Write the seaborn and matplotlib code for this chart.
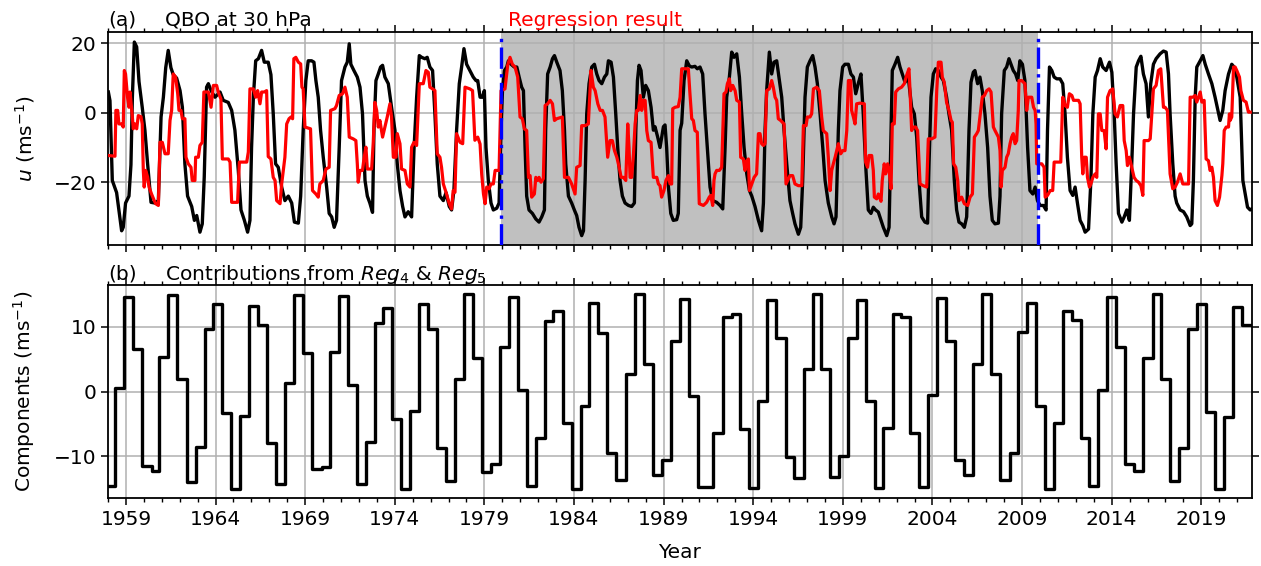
import numpy as np
import pandas as pd
import matplotlib
matplotlib.use("Agg")
import matplotlib.pyplot as plt
from matplotlib.ticker import MultipleLocator, FixedLocator
import seaborn as sns

# ---------------- data ----------------
# Observed zonal-mean zonal wind at 30 hPa (m/s), decimal year
obs_year = [
    1958.02, 1958.11, 1958.24, 1958.48, 1958.76, 1958.85, 1958.98, 1959.17, 1959.28, 1959.36,
    1959.47, 1959.60, 1959.73, 1959.91, 1960.06, 1960.21, 1960.40, 1960.62, 1960.81, 1960.96,
    1961.09, 1961.22, 1961.36, 1961.51, 1961.64, 1961.83, 1962.02, 1962.15, 1962.29, 1962.44,
    1962.67, 1962.82, 1962.95, 1963.13, 1963.26, 1963.37, 1963.50, 1963.60, 1963.75, 1963.97,
    1964.25, 1964.43, 1964.71, 1964.90, 1965.08, 1965.27, 1965.42, 1965.61, 1965.79, 1965.92,
    1966.01, 1966.11, 1966.24, 1966.39, 1966.57, 1966.72, 1966.94, 1967.09, 1967.22, 1967.35,
    1967.50, 1967.69, 1967.87, 1968.06, 1968.25, 1968.40, 1968.62, 1968.75, 1968.89, 1969.04,
    1969.17, 1969.36, 1969.49, 1969.60, 1969.73, 1969.86, 1970.01, 1970.20, 1970.34, 1970.48,
    1970.62, 1970.75, 1970.90, 1971.03, 1971.22, 1971.35, 1971.46, 1971.55, 1971.72, 1971.91,
    1972.06, 1972.20, 1972.34, 1972.47, 1972.61, 1972.76, 1972.84, 1972.95, 1973.08, 1973.21,
    1973.32, 1973.45, 1973.64, 1973.82, 1974.01, 1974.14, 1974.29, 1974.44, 1974.57, 1974.75,
    1974.94, 1975.07, 1975.22, 1975.37, 1975.50, 1975.68, 1975.81, 1975.96, 1976.11, 1976.24,
    1976.37, 1976.52, 1976.71, 1976.86, 1977.04, 1977.17, 1977.30, 1977.45, 1977.60, 1977.73,
    1977.86, 1978.01, 1978.19, 1978.38, 1978.53, 1978.63, 1978.76, 1978.89, 1979.00, 1979.09,
    1979.22, 1979.37, 1979.50, 1979.69, 1979.82, 1979.93, 1980.01, 1980.12, 1980.25, 1980.34,
    1980.49, 1980.67, 1980.81, 1980.94, 1981.08, 1981.18, 1981.27, 1981.36, 1981.49, 1981.68,
    1981.87, 1982.05, 1982.20, 1982.35, 1982.42, 1982.53, 1982.67, 1982.80, 1982.91, 1983.04,
    1983.22, 1983.35, 1983.47, 1983.54, 1983.69, 1983.87, 1984.02, 1984.15, 1984.28, 1984.43,
    1984.53, 1984.62, 1984.71, 1984.84, 1984.99, 1985.14, 1985.27, 1985.40, 1985.55, 1985.70,
    1985.83, 1985.92, 1986.07, 1986.20, 1986.33, 1986.44, 1986.57, 1986.70, 1986.85, 1987.04,
    1987.22, 1987.37, 1987.45, 1987.54, 1987.63, 1987.74, 1987.87, 1988.00, 1988.15, 1988.30,
    1988.43, 1988.52, 1988.67, 1988.80, 1988.99, 1989.08, 1989.17, 1989.27, 1989.40, 1989.54,
    1989.73, 1989.82, 1989.92, 1990.01, 1990.14, 1990.29, 1990.44, 1990.57, 1990.75, 1990.88,
    1991.03, 1991.18, 1991.31, 1991.44, 1991.59, 1991.74, 1991.96, 1992.15, 1992.30, 1992.43,
    1992.52, 1992.67, 1992.80, 1992.93, 1993.08, 1993.23, 1993.36, 1993.49, 1993.64, 1993.79,
    1993.92, 1994.10, 1994.29, 1994.47, 1994.57, 1994.66, 1994.75, 1994.90, 1995.03, 1995.16,
    1995.31, 1995.46, 1995.59, 1995.72, 1995.87, 1996.05, 1996.20, 1996.33, 1996.52, 1996.65,
    1996.76, 1996.89, 1997.02, 1997.17, 1997.32, 1997.45, 1997.58, 1997.73, 1997.88, 1998.01,
    1998.19, 1998.38, 1998.51, 1998.62, 1998.75, 1998.84, 1998.99, 1999.12, 1999.31, 1999.45,
    1999.59, 1999.72, 1999.86, 2000.01, 2000.14, 2000.27, 2000.42, 2000.57, 2000.70, 2000.83,
    2000.98, 2001.13, 2001.26, 2001.45, 2001.58, 2001.69, 2001.76, 2001.91, 2002.06, 2002.19,
    2002.32, 2002.47, 2002.65, 2002.84, 2002.99, 2003.12, 2003.25, 2003.40, 2003.58, 2003.73,
    2003.81, 2003.92, 2004.05, 2004.18, 2004.33, 2004.48, 2004.61, 2004.79, 2004.92, 2005.07,
    2005.22, 2005.35, 2005.48, 2005.63, 2005.78, 2005.91, 2006.04, 2006.15, 2006.28, 2006.37,
    2006.52, 2006.65, 2006.78, 2006.93, 2007.08, 2007.21, 2007.34, 2007.49, 2007.68, 2007.77,
    2007.86, 2008.01, 2008.14, 2008.27, 2008.38, 2008.51, 2008.64, 2008.76, 2008.88, 2009.02,
    2009.16, 2009.31, 2009.44, 2009.60, 2009.73, 2009.86, 2010.01, 2010.19, 2010.34, 2010.42,
    2010.53, 2010.66, 2010.79, 2010.94, 2011.12, 2011.27, 2011.40, 2011.53, 2011.68, 2011.83,
    2011.96, 2012.09, 2012.24, 2012.39, 2012.52, 2012.71, 2012.84, 2012.95, 2013.08, 2013.21,
    2013.36, 2013.50, 2013.69, 2013.88, 2014.01, 2014.14, 2014.25, 2014.38, 2014.57, 2014.70,
    2014.84, 2014.99, 2015.12, 2015.22, 2015.37, 2015.50, 2015.63, 2015.77, 2015.92, 2016.05,
    2016.18, 2016.33, 2016.48, 2016.70, 2016.89, 2017.04, 2017.17, 2017.26, 2017.41, 2017.54,
    2017.63, 2017.82, 2018.01, 2018.19, 2018.38, 2018.47, 2018.56, 2018.66, 2018.75, 2018.94,
    2019.09, 2019.22, 2019.40, 2019.59, 2019.77, 2020.05, 2020.20, 2020.33, 2020.52, 2020.70,
    2020.83, 2020.98, 2021.17, 2021.32, 2021.45, 2021.58, 2021.73, 2021.82,
]
obs_u = [
    6.0, 3.5, -19.5, -23.0, -34.0, -33.0, -26.0, -24.0, -15.0, 4.5,
    20.4, 19.0, 9.0, 1.6, -5.0, -14.7, -25.8, -26.0, -25.3, -1.2,
    4.5, 13.0, 18.0, 13.0, 11.0, 10.0, 6.4, 1.6, -14.7, -24.0,
    -27.0, -31.0, -29.6, -34.4, -32.0, -18.5, 7.4, 8.4, 6.4, 4.5,
    6.0, 3.6, 3.0, 0.7, -5.0, -16.6, -28.0, -31.0, -34.4, -31.0,
    -10.0, 4.5, 15.0, 15.6, 18.0, 14.6, 14.6, 11.0, -0.3, -14.7,
    -15.7, -21.4, -25.3, -24.0, -26.0, -31.5, -31.8, -24.0, -5.0, 9.3,
    15.0, 15.0, 14.6, 9.3, 4.5, -5.0, -12.8, -21.4, -29.0, -30.0,
    -33.0, -31.0, -10.0, 9.3, 13.2, 14.6, 19.9, 14.0, 12.2, 10.3,
    7.4, -0.3, -19.5, -24.0, -26.0, -28.7, -5.0, 9.3, 11.2, 13.2,
    13.7, 10.3, 8.4, 1.6, -5.0, -14.7, -22.4, -27.0, -30.0, -28.5,
    -30.0, -10.9, 4.5, 16.5, 16.0, 15.6, 16.0, 13.2, 12.2, -0.3,
    -14.7, -24.0, -25.3, -23.0, -27.0, -28.0, -22.4, -5.0, 8.4, 13.2,
    18.5, 14.0, 12.2, 10.3, 9.3, 9.3, 4.5, 4.5, 6.4, -10.0,
    -19.5, -26.0, -28.0, -27.5, -26.0, -5.0, 6.4, 12.2, 13.2, 15.0,
    14.0, 13.2, 13.2, 10.3, 7.4, 6.4, -10.0, -24.0, -28.0, -29.0,
    -30.6, -31.5, -30.0, -28.0, -5.0, 11.2, 13.2, 15.6, 16.5, 14.6,
    12.2, 6.4, -5.0, -14.7, -24.0, -26.0, -28.0, -29.6, -33.0, -35.4,
    -34.0, -19.5, -0.3, 8.4, 13.2, 14.0, 11.2, 9.3, 8.4, 10.3,
    11.2, 15.0, 14.6, 10.3, -0.3, -10.0, -19.5, -24.0, -26.0, -26.7,
    -27.0, -26.0, -5.0, 9.3, 13.7, 12.2, 4.5, 7.9, 6.4, 1.6,
    -5.0, -4.0, -7.0, -10.0, -4.0, -3.5, -10.0, -21.4, -29.0, -31.0,
    -30.8, -29.0, -5.0, -3.0, 9.3, 15.0, 13.5, 13.2, 13.4, 12.7,
    13.2, 11.2, -0.3, -10.0, -21.4, -25.3, -25.8, -26.7, -27.7, -10.0,
    4.5, 10.3, 17.5, 16.0, 17.0, 10.3, -0.3, -10.0, -17.6, -22.4,
    -24.0, -27.0, -31.0, -34.0, -26.0, -5.0, 6.4, 17.5, 11.2, 14.6,
    15.0, 9.3, 4.5, -5.0, -14.7, -25.3, -29.0, -32.0, -35.0, -33.0,
    -19.5, 4.5, 13.2, 15.0, 16.5, 13.2, 8.4, -0.3, -10.0, -19.5,
    -26.0, -30.0, -32.0, -30.0, -5.0, 6.4, 13.2, 14.0, 14.0, 11.2,
    10.3, 5.5, 8.4, 11.2, -0.3, -14.7, -28.0, -29.0, -27.2, -28.0,
    -28.6, -31.0, -33.0, -35.4, -33.0, -5.0, 12.2, 14.0, 16.0, 13.2,
    11.2, 8.8, 10.3, 1.6, -0.3, -7.0, -19.5, -30.0, -31.5, -31.8,
    -14.7, 4.5, 11.2, 12.7, 12.2, 10.3, 9.3, 4.5, -0.3, -5.0,
    -19.5, -28.0, -31.5, -32.0, -33.0, -30.0, -5.0, 8.8, 11.7, 12.2,
    8.4, 10.3, 6.4, -0.3, -10.0, -24.0, -31.0, -32.0, -31.8, -24.0,
    -0.3, 12.2, 13.2, 15.6, 14.0, 12.2, 11.2, 9.3, 15.0, 14.0,
    9.3, -10.0, -22.4, -23.4, -21.4, -25.3, -26.7, -26.7, -28.0, -5.0,
    13.2, 12.2, 10.3, 9.8, 9.8, 8.4, -0.3, -12.8, -22.4, -23.8,
    -21.4, -26.0, -31.0, -32.5, -34.4, -33.5, -19.5, -0.3, 10.3, 12.2,
    15.6, 13.2, 12.2, 14.6, 11.7, -0.3, -14.7, -29.0, -31.5, -30.0,
    -28.0, -31.0, -14.7, -0.3, 13.2, 15.0, 16.3, 11.2, 8.4, -1.2,
    8.4, 14.0, 15.6, 17.0, 17.8, 17.5, 11.2, -0.3, -14.7, -24.0,
    -26.0, -28.0, -28.5, -30.0, -32.5, -32.0, -19.5, 4.5, 13.2, 15.0,
    16.5, 14.0, 11.2, 8.4, 4.5, -2.2, 0.7, 6.4, 11.2, 14.0,
    13.2, 10.3, 4.5, -19.5, -23.4, -27.2, -28.0, -27.7,
]

# Regression reconstruction (m/s)
reg_year = [
    1958.02, 1958.39, 1958.44, 1958.54, 1958.61, 1958.76, 1958.85, 1958.91, 1958.98, 1959.09,
    1959.17, 1959.23, 1959.36, 1959.41, 1959.50, 1959.60, 1959.69, 1959.84, 1959.91, 1959.97,
    1960.02, 1960.10, 1960.21, 1960.29, 1960.43, 1960.58, 1960.66, 1960.81, 1960.90, 1961.03,
    1961.18, 1961.36, 1961.46, 1961.55, 1961.64, 1961.77, 1961.89, 1961.96, 1962.07, 1962.15,
    1962.29, 1962.35, 1962.48, 1962.63, 1962.70, 1962.85, 1962.89, 1963.04, 1963.13, 1963.26,
    1963.35, 1963.60, 1963.75, 1963.88, 1964.06, 1964.15, 1964.30, 1964.38, 1964.71, 1964.81,
    1964.90, 1965.23, 1965.33, 1965.74, 1965.83, 1965.92, 1966.11, 1966.24, 1966.35, 1966.48,
    1966.57, 1966.72, 1966.85, 1966.94, 1967.09, 1967.22, 1967.32, 1967.41, 1967.60, 1967.69,
    1967.87, 1967.97, 1968.10, 1968.21, 1968.30, 1968.37, 1968.48, 1968.62, 1968.75, 1968.82,
    1968.89, 1968.99, 1969.30, 1969.41, 1969.60, 1969.73, 1969.82, 1970.01, 1970.16, 1970.34,
    1970.42, 1970.66, 1970.75, 1970.90, 1971.09, 1971.22, 1971.35, 1971.46, 1971.68, 1971.83,
    1971.91, 1971.96, 1972.06, 1972.20, 1972.28, 1972.39, 1972.47, 1972.71, 1972.80, 1972.89,
    1972.99, 1973.08, 1973.17, 1973.32, 1973.45, 1973.58, 1973.73, 1973.82, 1973.92, 1974.07,
    1974.14, 1974.29, 1974.38, 1974.57, 1974.70, 1974.85, 1974.94, 1975.07, 1975.22, 1975.37,
    1975.59, 1975.74, 1975.87, 1975.96, 1976.11, 1976.24, 1976.37, 1976.52, 1976.61, 1976.71,
    1976.89, 1977.04, 1977.17, 1977.26, 1977.36, 1977.45, 1977.64, 1977.79, 1977.92, 1978.19,
    1978.34, 1978.47, 1978.63, 1978.76, 1978.85, 1978.95, 1979.04, 1979.13, 1979.26, 1979.37,
    1979.50, 1979.60, 1979.82, 1979.93, 1980.15, 1980.30, 1980.43, 1980.56, 1980.71, 1980.86,
    1980.99, 1981.12, 1981.23, 1981.36, 1981.46, 1981.55, 1981.64, 1981.79, 1981.87, 1981.98,
    1982.05, 1982.16, 1982.29, 1982.39, 1982.53, 1982.67, 1982.80, 1982.91, 1983.04, 1983.22,
    1983.35, 1983.47, 1983.69, 1983.87, 1984.06, 1984.15, 1984.34, 1984.43, 1984.62, 1984.80,
    1984.90, 1984.95, 1985.08, 1985.18, 1985.33, 1985.46, 1985.59, 1985.73, 1985.88, 1986.01,
    1986.14, 1986.26, 1986.39, 1986.52, 1986.63, 1986.76, 1986.89, 1987.00, 1987.07, 1987.13,
    1987.22, 1987.32, 1987.41, 1987.50, 1987.59, 1987.69, 1987.78, 1987.87, 1987.97, 1988.06,
    1988.15, 1988.30, 1988.43, 1988.62, 1988.71, 1988.80, 1988.89, 1989.02, 1989.13, 1989.27,
    1989.36, 1989.45, 1989.51, 1989.64, 1989.82, 1989.92, 1990.01, 1990.20, 1990.38, 1990.47,
    1990.57, 1990.66, 1990.75, 1990.88, 1990.99, 1991.22, 1991.40, 1991.55, 1991.63, 1991.74,
    1991.81, 1991.87, 1991.96, 1992.11, 1992.24, 1992.37, 1992.48, 1992.56, 1992.67, 1992.74,
    1992.86, 1992.99, 1993.08, 1993.23, 1993.30, 1993.45, 1993.54, 1993.64, 1993.73, 1993.79,
    1993.92, 1994.05, 1994.19, 1994.29, 1994.38, 1994.47, 1994.57, 1994.66, 1994.75, 1994.90,
    1995.03, 1995.12, 1995.22, 1995.31, 1995.40, 1995.53, 1995.72, 1995.83, 1996.05, 1996.20,
    1996.33, 1996.52, 1996.71, 1996.80, 1996.95, 1997.02, 1997.17, 1997.26, 1997.36, 1997.54,
    1997.69, 1997.82, 1997.91, 1998.01, 1998.10, 1998.19, 1998.29, 1998.38, 1998.47, 1998.57,
    1998.66, 1998.75, 1998.88, 1998.99, 1999.12, 1999.22, 1999.31, 1999.44, 1999.49, 1999.59,
    1999.68, 1999.77, 1999.96, 2000.20, 2000.27, 2000.38, 2000.46, 2000.61, 2000.70, 2000.76,
    2000.89, 2000.98, 2001.13, 2001.20, 2001.31, 2001.39, 2001.50, 2001.58, 2001.69, 2001.76,
    2001.87, 2001.95, 2002.10, 2002.28, 2002.43, 2002.56, 2002.69, 2002.75, 2002.84, 2002.93,
    2003.06, 2003.17, 2003.31, 2003.49, 2003.68, 2003.77, 2003.96, 2004.14, 2004.24, 2004.33,
    2004.48, 2004.55, 2004.66, 2004.79, 2004.92, 2005.04, 2005.11, 2005.18, 2005.30, 2005.41,
    2005.48, 2005.63, 2005.78, 2005.97, 2006.10, 2006.23, 2006.34, 2006.47, 2006.56, 2006.71,
    2006.78, 2006.90, 2007.03, 2007.16, 2007.27, 2007.40, 2007.49, 2007.68, 2007.77, 2007.83,
    2007.90, 2008.05, 2008.14, 2008.23, 2008.33, 2008.42, 2008.51, 2008.61, 2008.70, 2008.79,
    2008.83, 2008.98, 2009.16, 2009.26, 2009.35, 2009.44, 2009.54, 2009.64, 2009.73, 2009.78,
    2009.82, 2010.10, 2010.23, 2010.29, 2010.42, 2010.57, 2010.71, 2010.79, 2011.16, 2011.27,
    2011.40, 2011.53, 2011.64, 2011.78, 2011.87, 2012.02, 2012.15, 2012.24, 2012.33, 2012.39,
    2012.46, 2012.58, 2012.65, 2012.76, 2012.84, 2012.95, 2013.08, 2013.17, 2013.26, 2013.36,
    2013.45, 2013.58, 2013.69, 2013.77, 2013.91, 2014.06, 2014.19, 2014.32, 2014.47, 2014.62,
    2014.70, 2014.81, 2014.88, 2014.99, 2015.12, 2015.25, 2015.37, 2015.50, 2015.63, 2015.74,
    2015.81, 2016.05, 2016.15, 2016.24, 2016.33, 2016.48, 2016.61, 2016.74, 2016.89, 2016.98,
    2017.11, 2017.26, 2017.41, 2017.54, 2017.67, 2017.82, 2017.97, 2018.10, 2018.29, 2018.38,
    2018.53, 2018.66, 2018.75, 2018.84, 2018.94, 2019.03, 2019.16, 2019.27, 2019.40, 2019.49,
    2019.59, 2019.68, 2019.77, 2019.90, 2020.02, 2020.15, 2020.20, 2020.28, 2020.39, 2020.52,
    2020.57, 2020.61, 2020.70, 2020.80, 2020.89, 2020.98, 2021.13, 2021.21, 2021.35, 2021.50,
    2021.63, 2021.73,
]
reg_u = [
    -12.3, -12.5, 0.7, 0.7, -3.2, -3.2, -4.1, 12.2, 11.2, 4.5,
    1.6, 6.0, -1.2, -4.6, -3.2, -4.6, -0.8, -1.1, -3.2, -16.6,
    -21.4, -16.6, -18.5, -21.4, -23.4, -25.3, -26.2, -26.7, -8.5, -8.5,
    -11.8, -11.8, -2.2, 0.7, 11.2, 10.3, 5.5, 0.7, 0.7, -1.7,
    -1.7, -12.8, -14.7, -15.7, -19.5, -19.5, -12.8, -12.8, -9.4, -8.5,
    6.0, 6.0, 1.6, 7.9, 7.9, 6.0, 4.0, -13.3, -13.3, -14.2,
    -25.8, -25.8, -14.2, -14.2, -11.3, 6.9, 6.9, 4.5, 6.4, 2.6,
    6.0, 6.0, 6.4, -12.6, -13.3, -18.6, -19.5, -25.3, -26.2, -20.5,
    -12.8, -3.2, -1.7, -1.2, -1.7, 15.6, 16.0, 14.6, 14.1, 7.4,
    6.9, -4.1, -4.6, -22.4, -23.4, -24.3, -20.5, -19.5, -16.2, -15.7,
    0.7, 1.2, 2.1, 5.0, 5.5, 7.4, 4.5, -7.0, -7.5, -8.0,
    -14.7, -20.0, -16.6, -16.6, -13.3, -9.9, -16.2, -16.2, -8.5, 3.0,
    0.7, -4.1, -2.2, -7.0, -4.1, -1.2, 2.6, -1.2, -12.8, -12.8,
    -6.0, -8.9, -16.2, -16.6, -20.5, -21.4, -9.9, -8.5, -9.4, 8.4,
    8.4, 12.2, 11.7, 7.4, 6.9, 6.4, -11.8, -12.8, -15.7, -20.5,
    -23.4, -26.2, -27.7, -22.4, -22.9, -6.0, -8.5, -8.9, 7.4, 6.9,
    6.4, -7.9, -7.0, -9.0, -17.6, -23.4, -26.2, -21.4, -21.9, -20.5,
    -20.5, -16.6, -16.6, 6.4, 6.9, 13.7, 16.0, 14.0, 13.2, 10.3,
    -1.2, -1.7, -4.6, -5.1, -18.6, -18.1, -24.3, -23.4, -18.6, -19.5,
    -18.6, -20.0, -19.0, 2.1, 2.6, 3.6, 2.6, -2.2, -1.7, -1.4,
    -1.2, -18.6, -18.6, -20.5, -23.4, -15.7, -15.2, -3.7, -3.7, -3.2,
    6.9, 12.2, 7.4, 6.4, 2.6, 0.7, 0.7, -1.2, -12.8, -8.0,
    -8.0, -10.9, -12.8, -15.7, -18.6, -18.6, -19.5, -3.2, -9.9, -18.6,
    -18.6, -11.8, -3.2, 0.7, 0.7, 5.0, 0.7, 3.6, 3.6, -5.1,
    -8.0, -8.5, -18.6, -18.6, -20.5, -21.0, -24.3, -22.4, -19.5, -18.1,
    -20.5, -20.5, 1.2, 1.6, 1.8, 4.5, 12.7, 12.7, 12.7, 5.5,
    -1.7, -2.2, -5.1, -5.6, -26.2, -26.7, -25.8, -24.3, -23.8, -26.7,
    -19.5, -17.6, -16.6, -16.6, -15.7, 5.5, 6.0, 8.4, 9.8, 6.4,
    7.9, 6.4, 3.6, 3.1, -12.8, -13.3, -16.6, -13.8, -13.3, -22.4,
    -20.5, -18.6, -17.6, -6.0, -6.0, -8.9, -9.4, -8.9, 6.4, 6.9,
    9.3, 7.4, 4.5, 3.6, -1.7, -2.2, -3.2, -20.5, -18.1, -18.1,
    -20.5, -21.0, -21.0, -3.7, -3.7, -1.2, -1.2, -0.3, 6.9, 7.4,
    6.4, -1.2, -5.1, -5.6, -6.0, -12.8, -22.4, -16.6, -14.7, -12.8,
    -10.9, -8.9, -11.8, -10.9, -10.9, -5.1, 9.3, 9.3, 0.7, -1.2,
    -3.2, 2.6, 2.8, 2.6, -14.2, -15.7, -12.3, -12.3, -16.6, -24.3,
    -24.8, -23.4, -25.5, -19.5, -14.7, -17.6, -14.7, -16.6, -21.9, -3.2,
    -3.2, 6.0, 6.9, 7.4, 8.4, 10.8, 12.7, 6.4, -5.1, -4.1,
    -4.1, -5.1, -20.5, -21.0, -21.4, -7.5, -7.5, -7.0, 6.4, 14.6,
    14.6, 10.3, 8.8, 3.0, 0.7, -2.2, -2.7, -14.7, -15.7, -19.5,
    -25.3, -24.3, -26.2, -26.7, -24.3, -23.4, -7.0, -6.0, -5.1, 1.6,
    4.5, 5.0, 6.4, 6.9, 6.0, -4.1, -5.1, -7.0, -10.9, -21.4,
    -16.6, -15.7, -12.8, -11.8, -8.9, -7.0, -6.0, -8.9, -8.0, 0.7,
    9.3, 9.3, 8.4, 0.7, 4.5, 4.5, 4.5, 1.6, 0.7, -3.2,
    -14.7, -14.7, -15.7, -24.3, -23.8, -22.4, -22.4, -14.2, -14.2, 4.5,
    2.1, 1.6, 5.5, 5.0, 3.6, 3.6, 3.6, 2.6, -12.8, -17.6,
    -12.8, -12.8, -18.6, -21.4, -20.5, -18.6, -17.6, -18.6, -0.3, -0.3,
    -5.1, -5.1, -10.4, 4.5, 6.4, 6.9, -0.3, -1.2, 2.1, 2.1,
    -8.0, -10.9, -15.2, -12.8, -15.7, -18.6, -19.5, -20.0, -21.0, -23.8,
    -8.0, -8.0, -7.5, -0.3, 6.9, 7.9, 12.2, 12.7, 1.6, 1.6,
    0.7, -17.6, -21.9, -21.4, -20.0, -17.6, -20.5, -20.5, -20.5, 4.5,
    4.5, 5.0, 3.1, 4.5, 6.0, 3.1, 3.6, -13.3, -13.8, -16.6,
    -15.7, -18.6, -25.3, -26.7, -24.3, -18.1, -14.7, -5.1, -4.1, -4.1,
    -0.3, -2.2, -1.2, 13.2, 13.2, 12.2, 10.3, 6.4, 3.6, 3.1,
    0.2, 0.2,
]

# Combined contribution of the Reg4 and Reg5 components (m/s), piecewise constant
comp_start = [
    1958.00, 1958.39, 1958.89, 1959.37, 1959.87, 1960.43, 1960.86, 1961.36, 1961.86, 1962.39,
    1962.89, 1963.39, 1963.87, 1964.38, 1964.84, 1965.36, 1965.88, 1966.38, 1966.89, 1967.37,
    1967.87, 1968.39, 1968.90, 1969.40, 1969.92, 1970.38, 1970.89, 1971.37, 1971.87, 1972.37,
    1972.90, 1973.36, 1973.86, 1974.35, 1974.85, 1975.35, 1975.87, 1976.34, 1976.86, 1977.36,
    1977.86, 1978.34, 1978.87, 1979.35, 1979.87, 1980.37, 1980.86, 1981.36, 1981.88, 1982.38,
    1982.85, 1983.37, 1983.87, 1984.37, 1984.86, 1985.36, 1985.86, 1986.34, 1986.92, 1987.42,
    1987.93, 1988.43, 1988.93, 1989.43, 1989.93, 1990.43, 1990.93, 1991.78, 1992.30, 1992.80,
    1993.26, 1993.78, 1994.29, 1994.79, 1995.27, 1995.81, 1996.29, 1996.83, 1997.33, 1997.79,
    1998.29, 1998.79, 1999.27, 1999.78, 2000.28, 2000.80, 2001.26, 2001.79, 2002.25, 2002.75,
    2003.27, 2003.78, 2004.28, 2004.76, 2005.26, 2005.77, 2006.29, 2006.79, 2007.27, 2007.77,
    2008.30, 2008.80, 2009.26, 2009.78, 2010.29, 2010.81, 2011.31, 2011.77, 2012.28, 2012.76,
    2013.26, 2013.76, 2014.25, 2014.75, 2015.25, 2015.77, 2016.28, 2016.76, 2017.26, 2017.76,
    2018.25, 2018.75, 2019.25, 2019.77, 2020.27, 2020.76, 2021.26, 2021.83,
]
comp_value = [
    -14.5, 0.5, 14.6, 6.6, -11.4, -12.2, 5.3, 14.9, 1.9, -13.9,
    -8.6, 9.7, 13.4, -3.3, -15.0, -3.8, 13.1, 10.2, -8.0, -14.2,
    1.3, 14.9, 5.9, -11.9, -11.7, 6.1, 14.7, 1.0, -14.3, -7.8,
    10.5, 12.9, -4.2, -15.0, -3.0, 13.5, 9.6, -8.7, -13.8, 2.0,
    15.0, 5.2, -12.4, -11.1, 6.9, 14.5, 0.2, -14.6, -7.1, 10.9,
    12.4, -4.8, -15.0, -2.3, 13.7, 9.0, -9.5, -13.6, 2.7, 15.0,
    4.3, -12.8, -10.6, 7.7, 14.2, -0.7, -14.7, -6.4, 11.4, 12.0,
    -5.7, -14.9, -1.4, 14.1, 8.2, -10.1, -13.3, 3.5, 15.0, 3.5,
    -13.2, -10.0, 8.3, 14.1, -1.4, -14.9, -5.6, 12.0, 11.5, -6.4,
    -14.7, -0.6, 14.4, 7.7, -10.6, -12.8, 4.3, 15.0, 2.7, -13.6,
    -9.4, 9.1, 13.7, -2.2, -15.0, -4.8, 12.4, 11.0, -7.1, -14.6,
    0.2, 14.5, 6.9, -11.1, -12.3, 5.2, 15.0, 2.0, -13.8, -8.7,
    9.6, 13.5, -3.1, -15.0, -4.0, 13.0, 10.3, 10.3,
]

fit_period = (1979.9, 2009.9)
major_years = [1959, 1964, 1969, 1974, 1979, 1984, 1989, 1994, 1999, 2004, 2009, 2014, 2019]

obs = pd.DataFrame({"year": obs_year, "u": obs_u})
reg = pd.DataFrame({"year": reg_year, "u": reg_u})
comp = pd.DataFrame({"year": comp_start, "value": comp_value})

# ---------------- style ----------------
FS = 14.5
plt.rcParams.update({
    "font.family": ["DejaVu Sans"],
    "font.size": FS,
    "axes.linewidth": 1.3,
    "xtick.major.size": 5, "xtick.minor.size": 3,
    "ytick.major.size": 5,
    "xtick.major.width": 1.1, "xtick.minor.width": 1.0,
    "ytick.major.width": 1.1,
    "xtick.labelsize": FS, "ytick.labelsize": FS,
    "mathtext.default": "regular",
})

fig = plt.figure(figsize=(12.61, 5.66), dpi=100)
W, H = 1261, 566
left, right = 108 / W, 1252 / W
ax_a = fig.add_axes([left, 1 - 245 / H, right - left, 213 / H])
ax_b = fig.add_axes([left, 1 - 498 / H, right - left, 213 / H])

xlim = (1958.0, 2021.83)

# ---------------- panel (a) ----------------
ax_a.axvspan(*fit_period, color="#c0c0c0", lw=0, zorder=1)
sns.lineplot(data=obs, x="year", y="u", ax=ax_a, color="black", lw=2.4,
             estimator=None, sort=False, zorder=3)
sns.lineplot(data=reg, x="year", y="u", ax=ax_a, color="red", lw=2.3,
             estimator=None, sort=False, zorder=4)
ax_a.vlines(list(fit_period), -38.1, 21.5, colors="blue", linestyles="-.",
            lw=2.4, zorder=5)
ax_a.set_ylim(-38.1, 23.3)
ax_a.set_yticks([-20, 0, 20])
ax_a.set_ylabel(r"$\mathit{u}$ (ms$^{-1}$)")

# ---------------- panel (b) ----------------
sns.lineplot(data=comp, x="year", y="value", ax=ax_b, color="black", lw=2.4,
             estimator=None, sort=False, drawstyle="steps-post", zorder=3)
ax_b.set_ylim(-16.4, 16.4)
ax_b.set_yticks([-10, 0, 10])
ax_b.set_ylabel(r"Components (ms$^{-1}$)")
ax_b.set_xlabel("Year", labelpad=10)

for ax in (ax_a, ax_b):
    ax.set_xlim(*xlim)
    ax.xaxis.set_major_locator(FixedLocator(major_years))
    ax.xaxis.set_minor_locator(MultipleLocator(1))
    ax.grid(True, which="major", color="#b0b0b0", lw=1.1, zorder=1.5)
    ax.tick_params(axis="x", which="both", top=True, bottom=True, direction="out")
    ax.tick_params(axis="y", which="both", left=True, right=True, direction="out")
    ax.yaxis.set_label_coords(-0.062, 0.5)
ax_a.tick_params(axis="x", labelbottom=False)
ax_a.set_xlabel("")

# ---------------- annotations ----------------
fig.text(108 / W, 1 - 26 / H, "(a)", fontsize=FS, va="baseline", ha="left")
fig.text(165 / W, 1 - 26 / H, "QBO at 30 hPa", fontsize=FS, va="baseline", ha="left")
fig.text(508 / W, 1 - 26 / H, "Regression result", fontsize=FS, va="baseline",
         ha="left", color="red")
fig.text(108 / W, 1 - 280 / H, "(b)", fontsize=FS, va="baseline", ha="left")
fig.text(165 / W, 1 - 280 / H, r"Contributions from $\mathit{Reg}_4$ & $\mathit{Reg}_5$",
         fontsize=FS, va="baseline", ha="left")

fig.savefig("out.png", dpi=100)
